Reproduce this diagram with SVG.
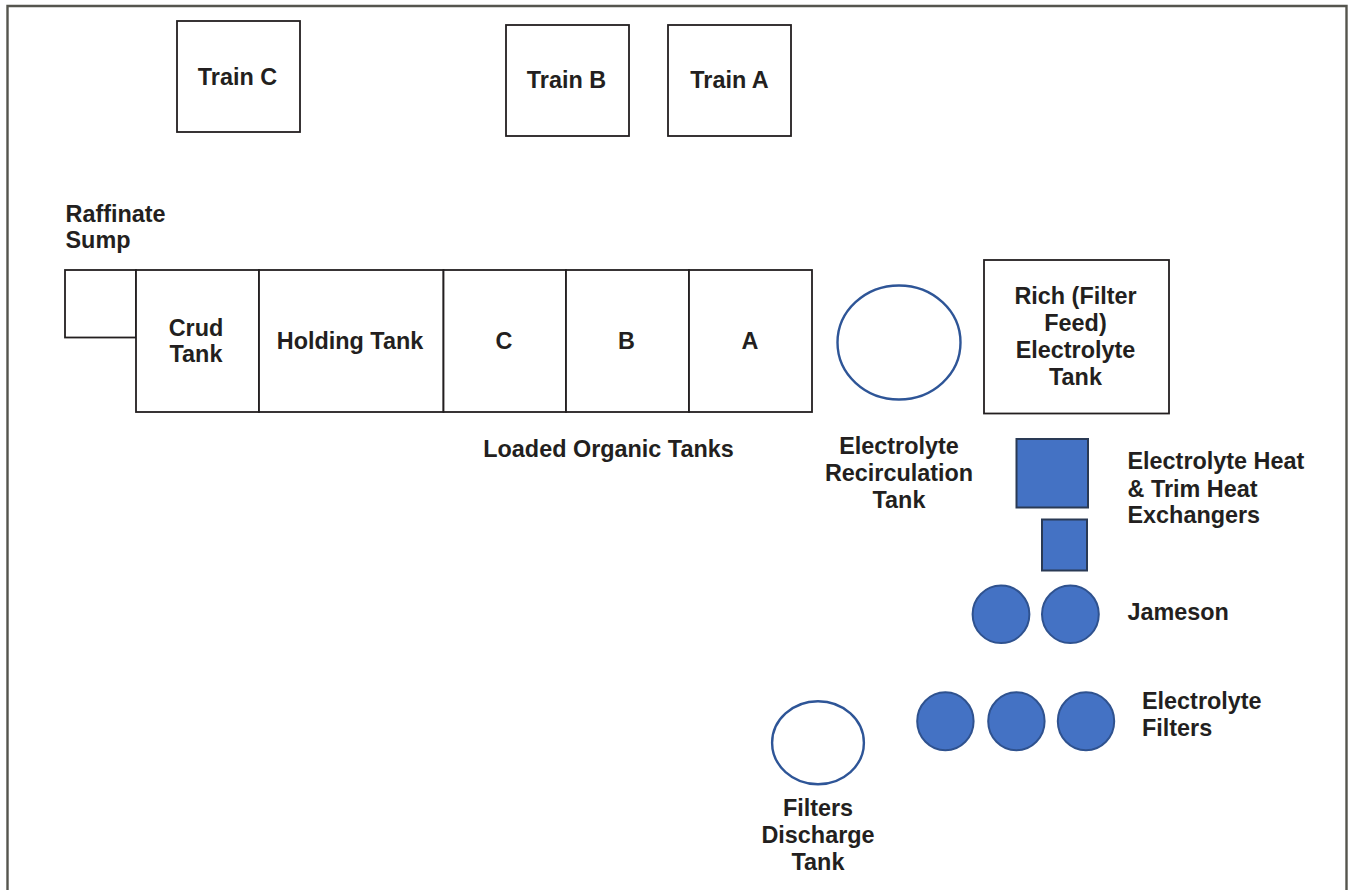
<svg xmlns="http://www.w3.org/2000/svg" width="1349" height="890" viewBox="0 0 1349 890">
<style>
.frame{fill:none;stroke:#55554e;stroke-width:2.4}
.box{fill:#ffffff;stroke:#231f20;stroke-width:1.8}
.ring{fill:#ffffff;stroke:#2e5597;stroke-width:2.4}
.dot{fill:#4472c4;stroke:#2f528f;stroke-width:2}
.sq{fill:#4472c4;stroke:#2a3a55;stroke-width:2}
text{font-family:"Liberation Sans",Arial,sans-serif;font-weight:bold;font-size:23.4px;fill:#231f20}
.c{text-anchor:middle}
</style>
<rect width="1349" height="890" fill="#ffffff"/>
<path class="frame" d="M7.5,890 V6 H1346.5 V890"/>
<g id="train-c"><rect class="box" x="177" y="21" width="123" height="111"/><text class="c" x="237.5" y="85">Train C</text></g>
<g id="train-b"><rect class="box" x="506" y="25" width="123" height="111"/><text class="c" x="566.5" y="88">Train B</text></g>
<g id="train-a"><rect class="box" x="668" y="25" width="123" height="111"/><text class="c" x="729.5" y="88">Train A</text></g>
<g id="raffinate-sump"><rect class="box" x="65" y="270" width="71" height="67.5"/><text x="65.5" y="221.5">Raffinate</text><text x="65.5" y="248">Sump</text></g>
<g id="crud-tank"><rect class="box" x="136" y="270" width="123" height="142"/><text class="c" x="196" y="335.5">Crud</text><text class="c" x="196" y="362">Tank</text></g>
<g id="holding-tank"><rect class="box" x="259" y="270" width="184.5" height="142"/><text class="c" x="350" y="349">Holding Tank</text></g>
<g id="tank-c"><rect class="box" x="443.5" y="270" width="122.5" height="142"/><text class="c" x="504" y="348.5">C</text></g>
<g id="tank-b"><rect class="box" x="566" y="270" width="123" height="142"/><text class="c" x="626.5" y="348.5">B</text></g>
<g id="tank-a"><rect class="box" x="689" y="270" width="123" height="142"/><text class="c" x="750" y="348.5">A</text></g>
<g id="loaded-organic-label"><text class="c" x="608.5" y="457">Loaded Organic Tanks</text></g>
<g id="electrolyte-recirculation-tank"><ellipse class="ring" cx="899" cy="342.5" rx="61.5" ry="57"/><text class="c" x="899" y="454.3">Electrolyte</text><text class="c" x="899" y="481">Recirculation</text><text class="c" x="899" y="507.7">Tank</text></g>
<g id="rich-electrolyte-tank"><rect class="box" x="984" y="260" width="185" height="153.5"/><text class="c" x="1075.5" y="304.3">Rich (Filter</text><text class="c" x="1075.5" y="331">Feed)</text><text class="c" x="1075.5" y="358">Electrolyte</text><text class="c" x="1075.5" y="384.5">Tank</text></g>
<g id="heat-exchangers"><rect class="sq" x="1016.5" y="439" width="71.5" height="68.5"/><rect class="sq" x="1042" y="519.5" width="45" height="51"/><text x="1127.5" y="469">Electrolyte Heat</text><text x="1127.5" y="496.5">&amp; Trim Heat</text><text x="1127.5" y="523.3">Exchangers</text></g>
<g id="jameson"><ellipse class="dot" cx="1001" cy="614.3" rx="28.4" ry="28.8"/><ellipse class="dot" cx="1070.4" cy="614.3" rx="28.4" ry="28.8"/><text x="1127.5" y="620">Jameson</text></g>
<g id="electrolyte-filters"><ellipse class="dot" cx="945.4" cy="721.3" rx="28.2" ry="29"/><ellipse class="dot" cx="1016.4" cy="721.3" rx="28.2" ry="29"/><ellipse class="dot" cx="1086" cy="721.3" rx="28.2" ry="29"/><text x="1142" y="709.3">Electrolyte</text><text x="1142" y="736">Filters</text></g>
<g id="filters-discharge-tank"><ellipse class="ring" cx="818" cy="742.7" rx="45.9" ry="41.5"/><text class="c" x="818" y="816">Filters</text><text class="c" x="818" y="843.3">Discharge</text><text class="c" x="818" y="870">Tank</text></g>
<g id="connectors"></g>
</svg>
